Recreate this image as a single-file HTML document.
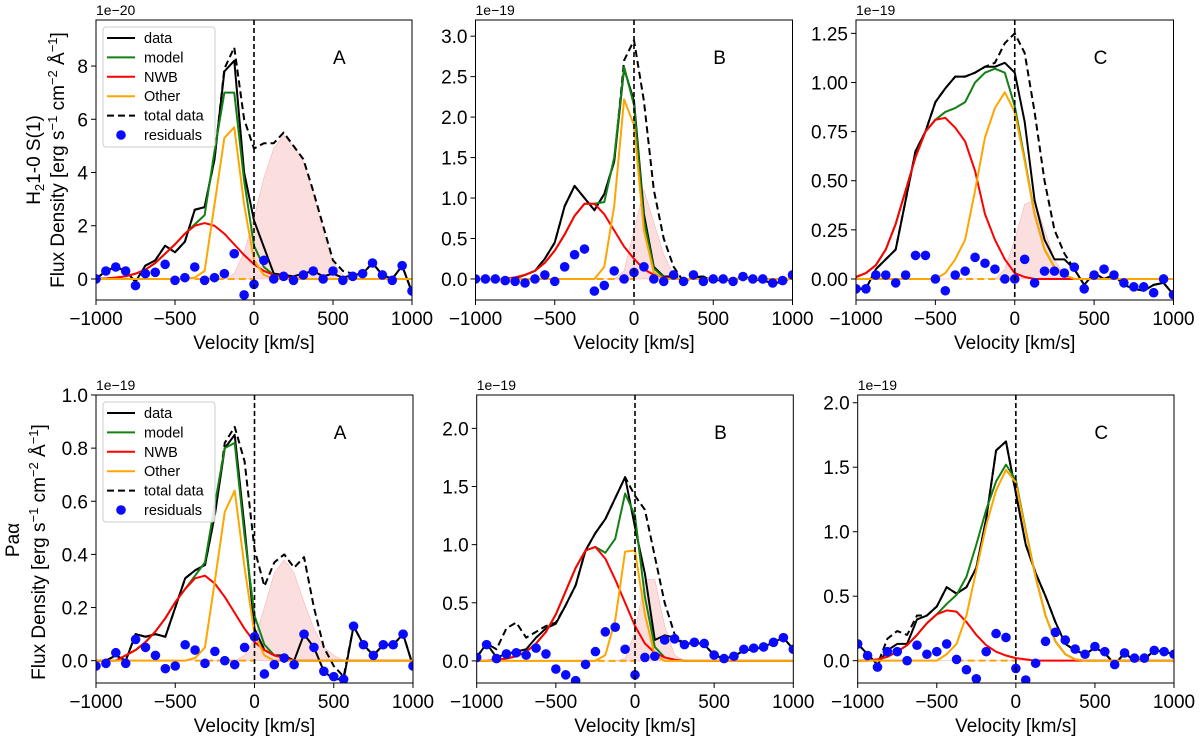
<!DOCTYPE html>
<html><head><meta charset="utf-8"><style>
body{margin:0;background:#fff;}
svg{display:block;font-family:"Liberation Sans","DejaVu Sans",sans-serif;}
</style></head><body>
<svg id="fig" width="1200" height="743" viewBox="0 0 1200 743" xmlns="http://www.w3.org/2000/svg">
<text transform="translate(40,160) rotate(-90)" text-anchor="middle" font-size="19">H<tspan font-size="13" dy="4">2</tspan><tspan dy="-4">1-0 S(1)</tspan></text>
<text transform="translate(64,160) rotate(-90)" text-anchor="middle" font-size="19">Flux Density [erg s<tspan font-size="13" dy="-7">−1</tspan><tspan dy="7"> cm</tspan><tspan font-size="13" dy="-7">−2</tspan><tspan dy="7"> Å</tspan><tspan font-size="13" dy="-7">−1</tspan><tspan dy="7">]</tspan></text>
<text transform="translate(19,540) rotate(-90)" text-anchor="middle" font-size="19">Paα</text>
<text transform="translate(45,552) rotate(-90)" text-anchor="middle" font-size="19">Flux Density [erg s<tspan font-size="13" dy="-7">−1</tspan><tspan dy="7"> cm</tspan><tspan font-size="13" dy="-7">−2</tspan><tspan dy="7"> Å</tspan><tspan font-size="13" dy="-7">−1</tspan><tspan dy="7">]</tspan></text>
</svg>
<script>
const velocity = [-1000,-937.5,-875,-812.5,-750,-687.5,-625,-562.5,-500,-437.5,-375,-312.5,-250,-187.5,-125,-62.5,0,62.5,125,187.5,250,312.5,375,437.5,500,562.5,625,687.5,750,812.5,875,937.5,1000];
const xTicks = [-1000,-500,0,500,1000];

const p1Data  = [0,0.3,0.45,0.3,-0.1,0.5,0.7,1.25,1.0,1.4,2.6,2.7,4.5,7.8,8.2,4.0,2.2,1.2,0.2,0.15,0.1,0.2,0.3,0.1,0.2,0.05,0.15,0.2,0.6,0.15,0.0,0.5,-0.5];
const p1Nwb   = [0,0.02,0.05,0.1,0.2,0.35,0.6,0.95,1.3,1.7,2.0,2.1,2.0,1.7,1.3,0.9,0.55,0.3,0.15,0.07,0.03,0,0,0,0,0,0,0,0,0,0,0,0];
const p1Other = [0,0,0,0,0,0,0,0,0,0,0.05,0.3,2.8,5.3,5.7,2.8,0.7,0.15,0,0,0,0,0,0,0,0,0,0,0,0,0,0,0];
const p1Total = [0,0.3,0.45,0.3,-0.1,0.5,0.7,1.25,1.0,1.4,2.6,2.7,4.5,7.9,8.7,6.0,4.9,5.1,5.1,5.5,5.0,4.5,3.3,2.0,0.7,0.3,0.2,0.2,0.6,0.15,0.0,0.5,-0.5];
const p1Pink  = [0,0,0,0,0,0,0,0,0,0,0,0,0,0,0.2,1.0,2.3,3.8,4.9,5.4,5.0,4.4,3.2,1.8,0.6,0.15,0,0,0,0,0,0,0];
const p1Resid = [0,0.3,0.45,0.3,-0.25,0.2,0.25,0.55,-0.05,0.05,0.45,-0.05,0.05,0.2,0.95,-0.6,-0.2,0.7,0.0,0.1,-0.05,0.15,0.3,0.0,0.3,-0.05,0.1,0.2,0.6,0.15,-0.05,0.5,-0.45];
const p1YTicks = [0,2,4,6,8];

const p2Data  = [0,0,0,0,0.01,0.05,0.1,0.25,0.45,0.9,1.15,1.0,0.85,1.05,1.45,2.6,2.2,0.8,0.15,0.03,0.03,-0.03,0.02,0.03,-0.03,0,-0.02,0.03,0,-0.02,-0.05,-0.04,0.03];
const p2Nwb   = [0,0,0,0,0.02,0.05,0.1,0.2,0.35,0.55,0.78,0.93,0.93,0.8,0.6,0.4,0.25,0.12,0.05,0.02,0,0,0,0,0,0,0,0,0,0,0,0,0];
const p2Other = [0,0,0,0,0,0,0,0,0,0,0,0,0,0.15,0.9,2.22,1.9,0.6,0.08,0,0,0,0,0,0,0,0,0,0,0,0,0,0];
const p2Total = [0,0,0,0,0.01,0.05,0.1,0.25,0.45,0.9,1.15,1.0,0.85,1.05,1.45,2.7,2.95,2.2,1.1,0.5,0.15,-0.03,0.02,0.03,-0.03,0,-0.02,0.03,0,-0.02,-0.05,-0.04,0.03];
const p2Pink  = [0,0,0,0,0,0,0,0,0,0,0,0,0,0,0,0.1,0.6,1.1,0.7,0.3,0.05,0,0,0,0,0,0,0,0,0,0,0,0];
const p2Resid = [0,0,0,-0.02,-0.03,-0.05,0.0,0.05,-0.03,0.15,0.3,0.37,-0.15,-0.08,0.1,0.0,0.08,0.15,0.0,-0.03,0.05,-0.03,0.05,-0.03,0,0,-0.03,0.03,0,0,-0.05,-0.02,0.05];
const p2YTicks = [0,0.5,1.0,1.5,2.0,2.5,3.0];

const p3Data  = [-0.05,-0.05,0.05,0.1,0.15,0.4,0.65,0.75,0.9,0.97,1.03,1.03,1.05,1.08,1.08,1.1,1.05,0.8,0.4,0.2,0.1,0.1,0.05,-0.03,0.03,0.0,0.02,-0.03,-0.05,-0.06,-0.03,-0.02,-0.08];
const p3Nwb   = [0.01,0.03,0.07,0.15,0.28,0.45,0.62,0.75,0.81,0.82,0.77,0.7,0.55,0.33,0.2,0.1,0.03,0.01,0,0,0,0,0,0,0,0,0,0,0,0,0,0,0];
const p3Other = [0,0,0,0,0,0,0,0,0,0.03,0.1,0.2,0.45,0.72,0.87,0.95,0.85,0.6,0.33,0.15,0.06,0.02,0,0,0,0,0,0,0,0,0,0,0];
const p3Total = [-0.05,-0.05,0.05,0.1,0.15,0.4,0.65,0.75,0.9,0.97,1.03,1.03,1.05,1.08,1.1,1.2,1.25,1.15,0.85,0.5,0.25,0.13,0.05,-0.03,0.03,0.0,0.02,-0.03,-0.05,-0.06,-0.03,-0.02,-0.08];
const p3Pink  = [0,0,0,0,0,0,0,0,0,0,0,0,0,0,0,0.05,0.2,0.38,0.4,0.25,0.1,0.02,0,0,0,0,0,0,0,0,0,0,0];
const p3Resid = [-0.05,-0.05,0.02,0.02,-0.02,0.02,0.12,0.12,0.0,-0.06,0.02,0.04,0.11,0.08,0.05,0.0,0.0,0.1,-0.02,0.04,0.04,0.03,0.06,-0.05,0.02,0.05,0.02,-0.02,-0.04,-0.04,-0.07,0.0,-0.08];
const p3YTicks = [0,0.25,0.5,0.75,1.0,1.25];

const p4Data  = [0,0,0.02,0.0,0.1,0.09,0.1,0.09,0.2,0.31,0.34,0.36,0.55,0.8,0.85,0.5,0.12,0.04,0.02,0.02,0.0,0.1,0.05,-0.04,-0.07,-0.07,0.13,0.06,0.02,0.06,0.06,0.1,-0.02];
const p4Nwb   = [0,0,0,0.02,0.04,0.07,0.11,0.16,0.22,0.27,0.31,0.32,0.29,0.24,0.18,0.12,0.07,0.04,0.02,0.01,0,0,0,0,0,0,0,0,0,0,0,0,0];
const p4Other = [0,0,0,0,0,0,0,0,0,0,0.01,0.05,0.3,0.56,0.64,0.35,0.1,0.02,0,0,0,0,0,0,0,0,0,0,0,0,0,0,0];
const p4Total = [0,0,0.02,0.0,0.1,0.09,0.1,0.09,0.2,0.31,0.34,0.36,0.55,0.82,0.88,0.75,0.42,0.28,0.37,0.4,0.35,0.39,0.2,0.05,-0.02,-0.06,0.13,0.06,0.02,0.06,0.06,0.1,-0.02];
const p4Pink  = [0,0,0,0,0,0,0,0,0,0,0,0,0,0,0,0.02,0.08,0.2,0.33,0.38,0.33,0.22,0.12,0.05,0.02,0,0,0,0,0,0,0,0];
const p4Resid = [-0.02,-0.01,0.03,-0.01,0.08,0.05,0.02,-0.03,-0.02,0.06,0.04,-0.01,0.035,0.0,-0.015,0.05,0.09,-0.05,-0.015,0.01,-0.015,0.1,0.05,-0.04,-0.06,-0.07,0.13,0.06,0.02,0.06,0.06,0.1,-0.02];
const p4YTicks = [0,0.2,0.4,0.6,0.8,1.0];

const p5Data  = [0.03,0.15,0.03,0.06,0.08,0.1,0.2,0.28,0.32,0.48,0.65,0.95,1.1,1.22,1.4,1.58,1.15,0.75,0.18,0.22,0.2,0.14,0.16,0.14,0.05,0.02,0.04,0.09,0.1,0.12,0.16,0.2,0.1];
const p5Nwb   = [0,0,0.01,0.02,0.04,0.08,0.15,0.25,0.4,0.6,0.8,0.95,0.98,0.88,0.7,0.5,0.3,0.15,0.07,0.03,0.01,0,0,0,0,0,0,0,0,0,0,0,0];
const p5Other = [0,0,0,0,0,0,0,0,0,0,0,0,0,0.05,0.35,0.94,0.95,0.4,0.05,0,0,0,0,0,0,0,0,0,0,0,0,0,0];
const p5Total = [0.03,0.15,0.1,0.28,0.33,0.2,0.25,0.3,0.33,0.48,0.65,0.95,1.1,1.22,1.4,1.58,1.42,1.3,0.9,0.5,0.23,0.14,0.16,0.14,0.05,0.02,0.04,0.09,0.1,0.12,0.16,0.2,0.1];
const p5Pink  = [0,0,0,0,0,0,0,0,0,0,0,0,0,0,0,0.02,0.25,0.7,0.7,0.3,0.05,0,0,0,0,0,0,0,0,0,0,0,0];
const p5Resid = [0.03,0.14,0.02,0.06,0.07,0.05,0.11,0.06,-0.07,-0.12,-0.17,-0.03,0.08,0.25,0.29,0.1,-0.12,0.03,0.04,0.18,0.19,0.14,0.16,0.15,0.05,0.02,0.04,0.1,0.11,0.12,0.16,0.2,0.1];
const p5YTicks = [0,0.5,1.0,1.5,2.0];

const p6Data  = [0.13,0.05,-0.03,0.08,0.13,0.13,0.32,0.35,0.42,0.57,0.52,0.57,0.72,1.1,1.63,1.7,1.3,0.9,0.68,0.5,0.3,0.13,0.08,0.05,0.1,0.06,-0.03,0.06,0.0,0.01,0.08,0.07,0.05];
const p6Nwb   = [0,0,0.01,0.03,0.07,0.12,0.2,0.29,0.36,0.39,0.38,0.3,0.2,0.12,0.07,0.04,0.02,0.01,0,0,0,0,0,0,0,0,0,0,0,0,0,0,0];
const p6Other = [0,0,0,0,0,0,0,0,0,0.05,0.13,0.35,0.7,1.05,1.32,1.48,1.38,1.0,0.65,0.35,0.15,0.05,0.01,0,0,0,0,0,0,0,0,0,0];
const p6Total = [0.13,0.05,-0.03,0.17,0.23,0.2,0.35,0.35,0.42,0.57,0.52,0.57,0.72,1.1,1.63,1.7,1.3,0.9,0.68,0.5,0.3,0.13,0.08,0.05,0.1,0.06,-0.03,0.06,0.0,0.01,0.08,0.07,0.05];
const p6Pink  = [0,0,0,0,0,0,0,0,0,0,0,0,0,0,0,0,0,0,0,0,0,0,0,0,0,0,0,0,0,0,0,0,0];
const p6Resid = [0.13,0.04,-0.05,0.07,0.07,0.0,0.12,0.05,0.07,0.13,0.01,-0.07,-0.14,0.07,0.21,0.18,-0.06,-0.15,-0.02,0.15,0.22,0.16,0.09,0.05,0.11,0.07,-0.03,0.06,0.02,0.02,0.08,0.07,0.05];
const p6YTicks = [0,0.5,1.0,1.5,2.0];

const legendLabels = ["data","model","NWB","Other","total data","residuals"];

const NS = "http://www.w3.org/2000/svg";
const svg = document.getElementById("fig");
function mk(tag, attrs, parent){
  const e = document.createElementNS(NS, tag);
  for (const k in attrs) e.setAttribute(k, attrs[k]);
  (parent||svg).appendChild(e);
  return e;
}
function fmt(v, dec){ const s = v.toFixed(dec); return s.startsWith("-") ? "−"+s.slice(1) : s; }

const panels = [
  {id:"h2-a", L:96,R:412,T:20,B:300, ymin:-0.79, ymax:9.73, dec:0, exp:"1e−20", letter:"A", legend:true, data:p1Data,nwb:p1Nwb,other:p1Other,total:p1Total,pink:p1Pink,resid:p1Resid,yt:p1YTicks},
  {id:"h2-b", L:475.5,R:792.5,T:20,B:300, ymin:-0.26, ymax:3.2, dec:1, exp:"1e−19", letter:"B", data:p2Data,nwb:p2Nwb,other:p2Other,total:p2Total,pink:p2Pink,resid:p2Resid,yt:p2YTicks},
  {id:"h2-c", L:856,R:1173.5,T:20,B:300, ymin:-0.107, ymax:1.318, dec:2, exp:"1e−19", letter:"C", data:p3Data,nwb:p3Nwb,other:p3Other,total:p3Total,pink:p3Pink,resid:p3Resid,yt:p3YTicks},
  {id:"pa-a", L:96,R:413,T:395,B:683, ymin:-0.084, ymax:1.0, dec:1, exp:"1e−19", letter:"A", legend:true, data:p4Data,nwb:p4Nwb,other:p4Other,total:p4Total,pink:p4Pink,resid:p4Resid,yt:p4YTicks},
  {id:"pa-b", L:476.7,R:793.3,T:395,B:683, ymin:-0.19, ymax:2.287, dec:1, exp:"1e−19", letter:"B", data:p5Data,nwb:p5Nwb,other:p5Other,total:p5Total,pink:p5Pink,resid:p5Resid,yt:p5YTicks},
  {id:"pa-c", L:857.7,R:1174,T:395,B:683, ymin:-0.173, ymax:2.06, dec:1, exp:"1e−19", letter:"C", data:p6Data,nwb:p6Nwb,other:p6Other,total:p6Total,pink:p6Pink,resid:p6Resid,yt:p6YTicks}
];

panels.forEach(p=>{
  const g = mk("g",{});
  
  
  const xs = v => p.L + (v+1000)/2000*(p.R-p.L);
  const ys = v => p.B - (v-p.ymin)/(p.ymax-p.ymin)*(p.B-p.T);
  const clipId = "clip-"+p.id;
  const cp = mk("clipPath",{id:clipId},g);
  mk("rect",{x:p.L,y:p.T,width:p.R-p.L,height:p.B-p.T},cp);
  const plot = mk("g",{"clip-path":"url(#"+clipId+")"},g);
  
  

  let d = "M"+xs(velocity[0])+","+ys(0);
  velocity.forEach((v,i)=>{ d += " L"+xs(v)+","+ys(p.pink[i]); });
  d += " L"+xs(velocity[velocity.length-1])+","+ys(0)+" Z";
  const pk = mk("path",{d:d,fill:"#f9c9c9","fill-opacity":"0.6",stroke:"#f7b5b5","stroke-width":"0.6"},plot);
  
  

  const line = (arr, color, name, dash) => {
    const pts = velocity.map((v,i)=>xs(v)+","+ys(arr[i])).join(" ");
    const a = {points:pts,fill:"none",stroke:color,"stroke-width":"2","stroke-linejoin":"round"};
    if (dash) a["stroke-dasharray"] = dash;
    const el = mk("polyline",a,plot);
    
    
  };
  const model = p.nwb.map((v,i)=>v+p.other[i]);
  line(p.total,"#000","total-data-line","7,4");
  line(p.data,"#000","data-line");
  line(model,"#138013","model-line");
  line(p.nwb,"#f00","nwb-line");
  line(p.other,"#ffa500","other-line");
  const ob = mk("line",{x1:xs(-375),x2:xs(0),y1:ys(0),y2:ys(0),stroke:"#ffa500","stroke-width":"2","stroke-dasharray":"7,4"},plot);
  
  
  p.resid.forEach((r,i)=>{
    const c = mk("circle",{cx:xs(velocity[i]),cy:ys(r),r:4.8,fill:"#0a0aff"},plot);
    
    
  });
  const zl = mk("line",{x1:xs(0),x2:xs(0),y1:p.T,y2:p.B,stroke:"#000","stroke-width":"1.6","stroke-dasharray":"5,3"},plot);
  
  

  const fr = mk("rect",{x:p.L,y:p.T,width:p.R-p.L,height:p.B-p.T,fill:"none",stroke:"#000","stroke-width":"1"},g);
  
  

  xTicks.forEach(t=>{
    mk("line",{x1:xs(t),x2:xs(t),y1:p.B,y2:p.B+5,stroke:"#000","stroke-width":"1"},g);
    const tx = mk("text",{x:xs(t),y:p.B+25,"text-anchor":"middle","font-size":"19"},g);
    tx.textContent = fmt(t,0);
    
    
  });
  p.yt.forEach(t=>{
    mk("line",{x1:p.L-5,x2:p.L,y1:ys(t),y2:ys(t),stroke:"#000","stroke-width":"1"},g);
    const tx = mk("text",{x:p.L-8,y:ys(t)+7,"text-anchor":"end","font-size":"19"},g);
    tx.textContent = fmt(t,p.dec);
    
    
  });
  const xl = mk("text",{x:(p.L+p.R)/2,y:p.B+49,"text-anchor":"middle","font-size":"19"},g);
  xl.textContent = "Velocity [km/s]";
  
  
  const ex = mk("text",{x:p.L,y:p.T-5,"font-size":"14"},g);
  ex.textContent = p.exp;
  
  
  const lt = mk("text",{x:p.L+(p.R-p.L)*0.77,y:p.T+44,"text-anchor":"middle","font-size":"19"},g);
  lt.textContent = p.letter;
  
  

  if (p.legend){
    const lg = mk("g",{},g);
    
    
    const top = p.T+7;
    mk("rect",{x:p.L+7,y:top,width:112,height:120,rx:3,fill:"#fff","fill-opacity":"0.85",stroke:"#ccc","stroke-width":"1"},lg);
    const colors = ["#000","#138013","#f00","#ffa500","#000",null];
    legendLabels.forEach((lab,i)=>{
      const yy = top+11+i*19.4;
      const en = mk("g",{},lg);
      
      
      if (colors[i]) {
        const a = {x1:p.L+11,x2:p.L+39,y1:yy,y2:yy,stroke:colors[i],"stroke-width":"2"};
        if (i===4) a["stroke-dasharray"]="7,4";
        mk("line",a,en);
      } else {
        mk("circle",{cx:p.L+25,cy:yy,r:4.8,fill:"#0a0aff"},en);
      }
      const t = mk("text",{x:p.L+48,y:yy+5,"font-size":"14.5"},en);
      t.textContent = lab;
    });
  }
});
</script>
</body></html>
